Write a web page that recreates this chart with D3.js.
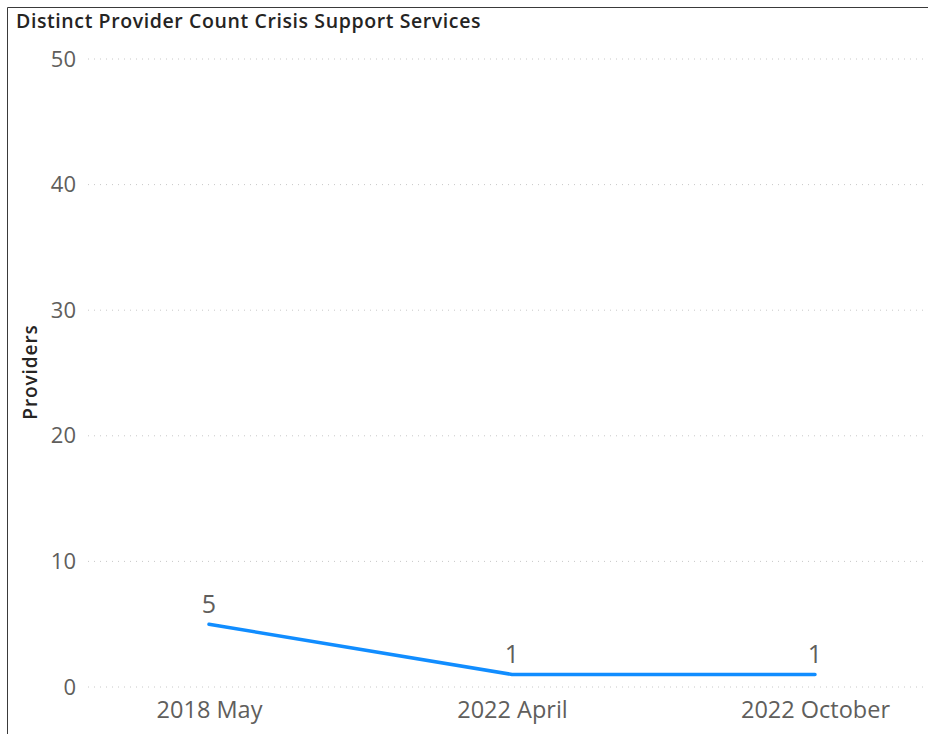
<!DOCTYPE html>
<html>
<head>
<meta charset="utf-8">
<script src="https://cdn.jsdelivr.net/npm/d3@7"></script>
<style>
  html, body { margin: 0; padding: 0; background: #fff; }
  svg { display: block; }
</style>
</head>
<body>
<svg id="chart" width="928" height="734"></svg>
<script>
// Monthly periods and distinct provider counts
const periods = ["2018 May", "2022 April", "2022 October"];
const providers = [5, 1, 1];
const yTicks = [0, 10, 20, 30, 40, 50];
const chartTitle = "Distinct Provider Count Crisis Support Services";
const yAxisTitle = "Providers";

const svg = d3.select("#chart");
const W = 928, H = 734;
const bodyFont = "'Open Sans', 'Segoe UI', sans-serif";

// Visual frame
svg.append("path")
  .attr("d", `M7.5,${H} V7.5 H${W}`)
  .attr("fill", "none")
  .attr("stroke", "#3a3a3a")
  .attr("stroke-width", 1);

svg.append("text")
  .attr("x", 16).attr("y", 28)
  .attr("font-family", bodyFont)
  .attr("font-weight", 600)
  .attr("font-size", 19.5)
  .attr("letter-spacing", 0.6)
  .attr("fill", "#252423")
  .text(chartTitle);

const plotLeft = 88, plotRight = 925;
const x = d3.scalePoint().domain(periods).range([209, 815]);
const y = d3.scaleLinear().domain([0, 50]).range([687, 59]);

// Dotted gridlines
svg.append("g").selectAll("line").data(yTicks).join("line")
  .attr("x1", plotLeft).attr("x2", plotRight)
  .attr("y1", d => y(d)).attr("y2", d => y(d))
  .attr("stroke", "#c8c8c8")
  .attr("stroke-width", 1)
  .attr("stroke-dasharray", "1,5");

// Y axis labels
const yAxis = d3.axisLeft(y).tickValues(yTicks).tickSize(0).tickPadding(0);
const gy = svg.append("g").attr("transform", `translate(76,0)`).call(yAxis);
gy.select(".domain").remove();
gy.selectAll("text")
  .attr("font-family", bodyFont)
  .attr("font-size", 22)
  .attr("fill", "#605e5c");

// X axis labels
const xAxis = d3.axisBottom(x).tickSize(0).tickPadding(0);
const gx = svg.append("g").attr("transform", `translate(0,701)`).call(xAxis);
gx.select(".domain").remove();
gx.selectAll("text")
  .attr("font-family", bodyFont)
  .attr("font-size", 23.5)
  .attr("fill", "#605e5c");

svg.append("text")
  .attr("transform", `translate(37,372) rotate(-90)`)
  .attr("text-anchor", "middle")
  .attr("font-family", bodyFont)
  .attr("font-weight", 600)
  .attr("font-size", 19)
  .attr("letter-spacing", 0.9)
  .attr("fill", "#252423")
  .text(yAxisTitle);

// Series line
const line = d3.line().x((d, i) => x(periods[i])).y(d => y(d));
svg.append("path")
  .datum(providers)
  .attr("d", line)
  .attr("fill", "none")
  .attr("stroke", "#118DFF")
  .attr("stroke-width", 3.5)
  .attr("stroke-linecap", "round")
  .attr("stroke-linejoin", "round");

// Data labels
svg.append("g").selectAll("text").data(providers).join("text")
  .attr("x", (d, i) => x(periods[i]))
  .attr("y", d => y(d) - 11)
  .attr("text-anchor", "middle")
  .attr("font-family", bodyFont)
  .attr("font-size", 25)
  .attr("fill", "#605e5c")
  .text(d => d);
</script>
</body>
</html>
